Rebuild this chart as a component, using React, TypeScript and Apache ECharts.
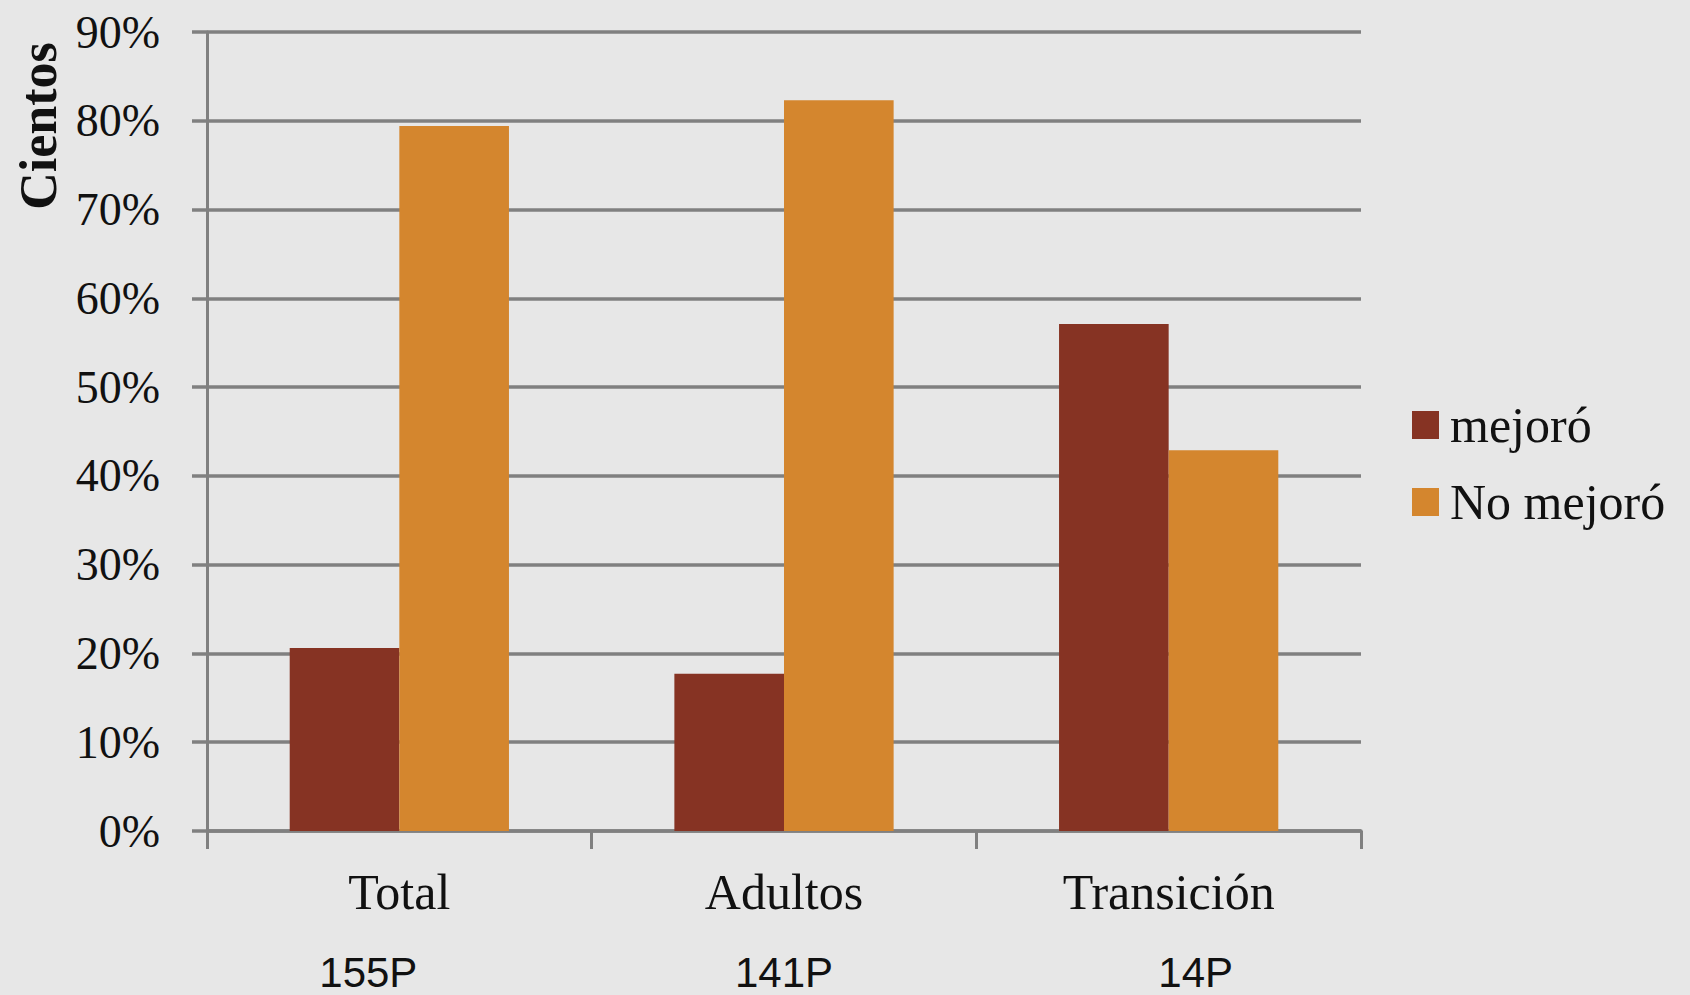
import React, { useEffect, useRef } from "react";
import * as echarts from "echarts";

const categories = ["Total", "Adultos", "Transición"];
const mejoro = [20.6, 17.7, 57.1];
const noMejoro = [79.4, 82.3, 42.9];
const sampleLabels = ["155P", "141P", "14P"];
const yTicks = [0, 10, 20, 30, 40, 50, 60, 70, 80, 90];

const GRID_LEFT = 207;
const GRID_RIGHT = 329;
const GRID_TOP = 32;
const GRID_BOTTOM = 164;
const GRAY = "#808080";
const SERIF = "'Liberation Serif', 'DejaVu Serif', serif";

export default function App() {
  const ref = useRef<HTMLDivElement>(null);
  useEffect(() => {
    if (!ref.current) return;
    const chart = echarts.init(ref.current, null, { renderer: "svg" });
    const plotW = 1690 - GRID_LEFT - GRID_RIGHT;
    const catW = plotW / categories.length;
    const sampleOffsets = [-31, 0, 27];
    chart.setOption({
      animation: false,
      backgroundColor: "#e7e7e7",
      grid: { left: GRID_LEFT, right: GRID_RIGHT, top: GRID_TOP, bottom: GRID_BOTTOM, containLabel: false },
      legend: {
        orient: "vertical",
        left: 1407,
        top: 395,
        itemWidth: 27,
        itemHeight: 28,
        itemGap: 27,
        icon: "rect",
        textStyle: { fontFamily: SERIF, fontSize: 50, color: "#111", padding: [0, 0, 0, 6] },
        data: ["mejoró", "No mejoró"],
      },
      xAxis: {
        type: "category",
        data: categories,
        axisLine: { lineStyle: { color: GRAY, width: 3.5 } },
        axisTick: { show: true, length: 18, lineStyle: { color: GRAY, width: 3 } },
        axisLabel: { fontFamily: SERIF, fontSize: 50, color: "#111", margin: 36 },
        splitLine: { show: false },
      },
      yAxis: {
        type: "value",
        min: 0,
        max: 90,
        interval: 10,
        axisLine: { show: true, lineStyle: { color: GRAY, width: 3 } },
        axisTick: { show: true, length: 15, lineStyle: { color: GRAY, width: 3.5 } },
        axisLabel: {
          fontFamily: SERIF,
          fontSize: 46,
          color: "#111",
          margin: 47,
          formatter: (v: number) => (yTicks.includes(v) ? `${v}%` : ""),
        },
        splitLine: { show: true, lineStyle: { color: GRAY, width: 3.5 } },
      },
      series: [
        {
          name: "mejoró",
          type: "bar",
          data: mejoro,
          barGap: "0%",
          barCategoryGap: "43%",
          itemStyle: { color: "#863323" },
        },
        {
          name: "No mejoró",
          type: "bar",
          data: noMejoro,
          barGap: "0%",
          barCategoryGap: "43%",
          itemStyle: { color: "#d4862e" },
        },
      ],
      graphic: [
        {
          type: "text",
          x: 38,
          y: 126,
          rotation: Math.PI / 2,
          style: {
            text: "Cientos",
            fontFamily: SERIF,
            fontWeight: "bold",
            fontSize: 52,
            fill: "#111",
            align: "center",
            verticalAlign: "middle",
          },
        },
        ...sampleLabels.map((t, i) => ({
          type: "text",
          x: GRID_LEFT + catW * (i + 0.5) + sampleOffsets[i],
          y: 972,
          style: {
            text: t,
            fontFamily: "'Liberation Sans', 'Noto Sans', sans-serif",
            fontSize: 42,
            fill: "#111",
            align: "center",
            verticalAlign: "middle",
          },
        })),
      ],
    });
    return () => chart.dispose();
  }, []);
  return <div ref={ref} style={{ position: "fixed", left: 0, top: 0, width: 1690, height: 995 }} />;
}
